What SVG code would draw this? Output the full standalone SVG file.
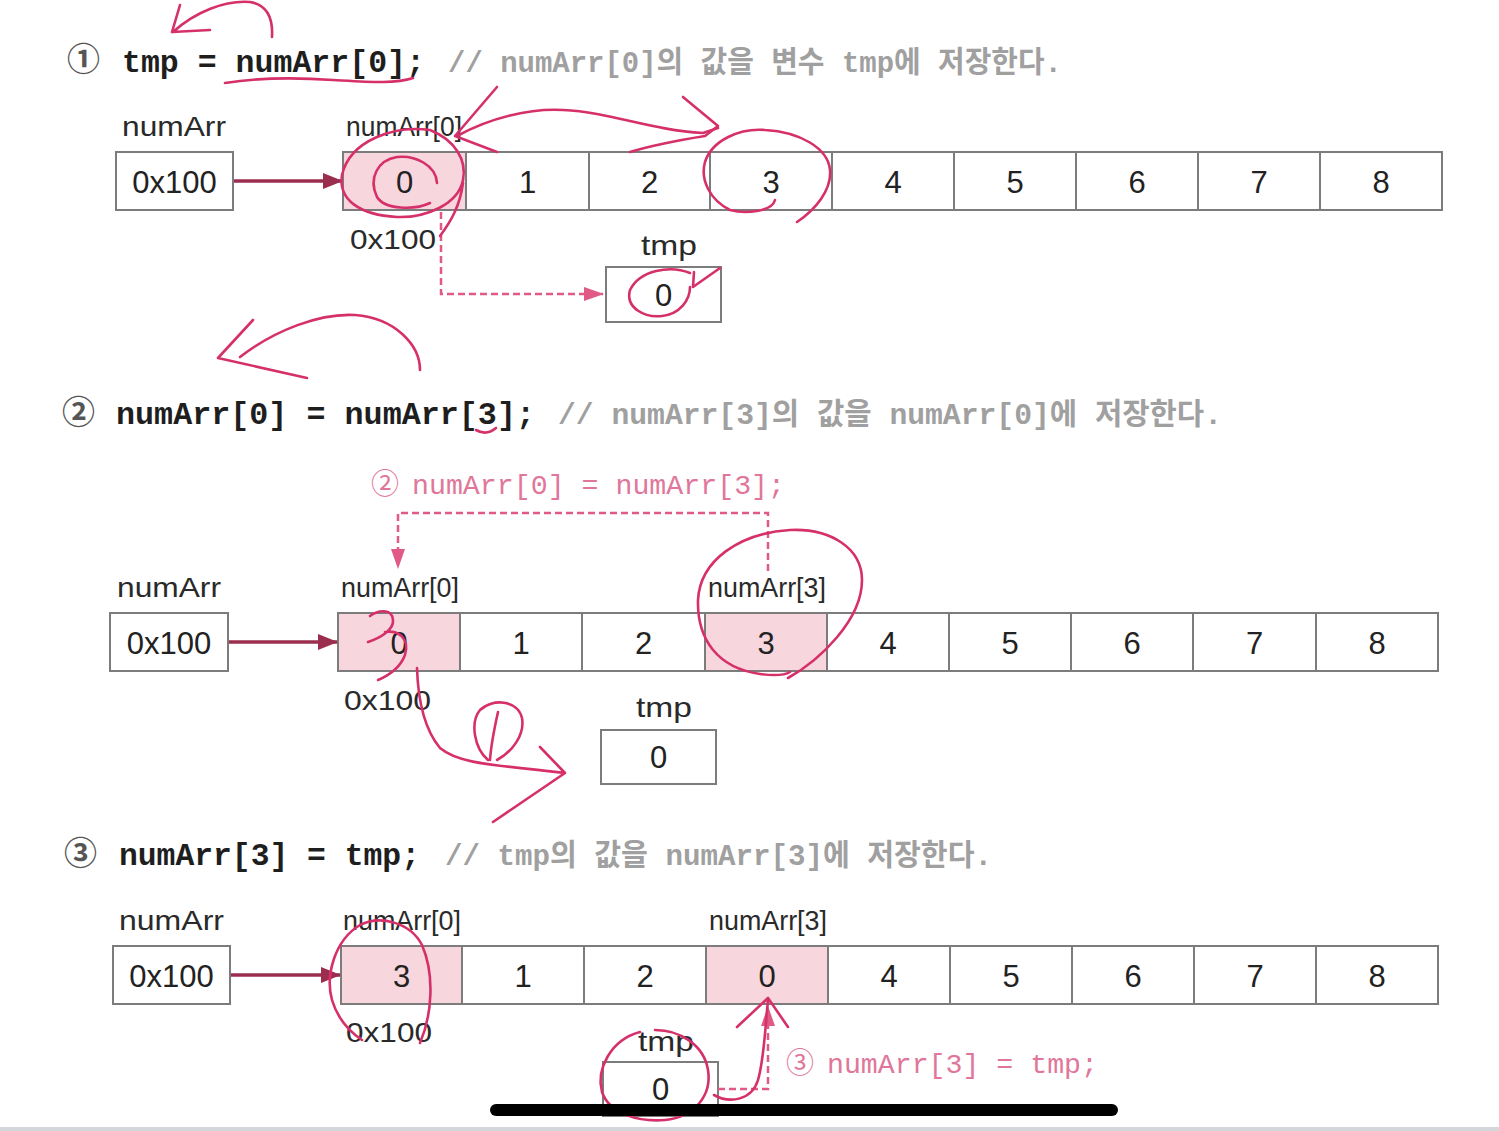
<svg xmlns="http://www.w3.org/2000/svg" width="1499" height="1131" viewBox="0 0 1499 1131">
<style>
.bg{fill:#ffffff}
.cell{fill:#ffffff;stroke:#7c7c7c;stroke-width:2}
.hl{fill:#f7d6dd;stroke:#7c7c7c;stroke-width:2}
.num{font-family:"Liberation Sans",Arial,sans-serif;font-size:31px;fill:#222;text-anchor:middle}
.lbl{font-family:"Liberation Sans",Arial,sans-serif;font-size:28px;fill:#2a2a2a}
.code{font-family:"Liberation Mono","Noto Sans CJK KR",monospace;font-weight:bold;font-size:31px;fill:#1e1e1e}
.cmt{font-family:"Liberation Mono","Noto Sans CJK KR",monospace;font-weight:bold;font-size:30px;fill:#a0a0a0}
.circ{font-family:"Noto Sans CJK KR","DejaVu Sans",sans-serif;font-size:33px;font-weight:bold;fill:#555}
.pcode{font-family:"Liberation Mono","Noto Sans CJK KR",monospace;font-size:27px;fill:#e0779a}
.pcirc{font-family:"Noto Sans CJK KR","DejaVu Sans",sans-serif;font-size:28px;fill:#e0779a}
.solid{stroke:#9b2d4e;stroke-width:3.5;fill:none}
.dash{stroke:#e05a85;stroke-width:2.5;stroke-dasharray:7 4;fill:none}
.hand{stroke:#d6306b;stroke-width:2.6;fill:none;stroke-linecap:round;stroke-linejoin:round}
</style>
<defs>
<marker id="ah" viewBox="0 0 20 16" refX="19" refY="8" markerWidth="20" markerHeight="16" markerUnits="userSpaceOnUse" orient="auto">
<path d="M0 0 L20 8 L0 16 z" fill="#9b2d4e"/>
</marker>
<marker id="ahp" viewBox="0 0 20 14" refX="19" refY="7" markerWidth="20" markerHeight="14" markerUnits="userSpaceOnUse" orient="auto">
<path d="M0 0 L20 7 L0 14 z" fill="#e05a85"/>
</marker>
</defs>
<rect class="bg" x="0" y="0" width="1499" height="1131"/>

<!-- Statement lines -->
<g id="stmt1">
<text class="circ" x="67" y="71">①</text>
<text class="code" x="122" y="72" textLength="303" lengthAdjust="spacingAndGlyphs">tmp = numArr[0];</text>
<text class="cmt" x="448" y="72" textLength="614" lengthAdjust="spacingAndGlyphs">// numArr[0]의 값을 변수 tmp에 저장한다.</text>
</g>
<g id="stmt2">
<text class="circ" x="62" y="424">②</text>
<text class="code" x="116" y="424" textLength="419" lengthAdjust="spacingAndGlyphs">numArr[0] = numArr[3];</text>
<text class="cmt" x="558" y="424" textLength="664" lengthAdjust="spacingAndGlyphs">// numArr[3]의 값을 numArr[0]에 저장한다.</text>
</g>
<g id="stmt3">
<text class="circ" x="64" y="865">③</text>
<text class="code" x="119" y="865" textLength="301" lengthAdjust="spacingAndGlyphs">numArr[3] = tmp;</text>
<text class="cmt" x="445" y="865" textLength="547" lengthAdjust="spacingAndGlyphs">// tmp의 값을 numArr[3]에 저장한다.</text>
</g>

<!-- Row 1 -->
<g id="row1-numArr">
<text class="lbl" x="122" y="136" textLength="104" lengthAdjust="spacingAndGlyphs">numArr</text>
<rect class="cell" x="116" y="152" width="117" height="58"/>
<text class="num" x="174.5" y="193">0x100</text>
</g>
<g id="row1-array">
<text class="lbl" x="346" y="136" textLength="116" lengthAdjust="spacingAndGlyphs">numArr[0]</text>
<rect class="hl" x="343" y="152" width="123" height="58"/>
<rect class="cell" x="466" y="152" width="123" height="58"/>
<rect class="cell" x="589" y="152" width="121" height="58"/>
<rect class="cell" x="710" y="152" width="122" height="58"/>
<rect class="cell" x="832" y="152" width="122" height="58"/>
<rect class="cell" x="954" y="152" width="122" height="58"/>
<rect class="cell" x="1076" y="152" width="122" height="58"/>
<rect class="cell" x="1198" y="152" width="122" height="58"/>
<rect class="cell" x="1320" y="152" width="122" height="58"/>
<text class="num" x="404.5" y="193">0</text>
<text class="num" x="527.5" y="193">1</text>
<text class="num" x="649.5" y="193">2</text>
<text class="num" x="771" y="193">3</text>
<text class="num" x="893" y="193">4</text>
<text class="num" x="1015" y="193">5</text>
<text class="num" x="1137" y="193">6</text>
<text class="num" x="1259" y="193">7</text>
<text class="num" x="1381" y="193">8</text>
<text class="lbl" x="350" y="249" textLength="86" lengthAdjust="spacingAndGlyphs">0x100</text>
</g>
<g id="row1-tmp">
<text class="lbl" x="641" y="255" textLength="56" lengthAdjust="spacingAndGlyphs">tmp</text>
<rect class="cell" x="606" y="267" width="115" height="55"/>
<text class="num" x="663.5" y="306">0</text>
</g>

<!-- Row 2 -->
<g id="row2-numArr">
<text class="lbl" x="117" y="597" textLength="104" lengthAdjust="spacingAndGlyphs">numArr</text>
<rect class="cell" x="110" y="613" width="118" height="58"/>
<text class="num" x="169" y="654">0x100</text>
</g>
<g id="row2-array">
<text class="lbl" x="341" y="597" textLength="118" lengthAdjust="spacingAndGlyphs">numArr[0]</text>
<text class="lbl" x="708" y="597" textLength="118" lengthAdjust="spacingAndGlyphs">numArr[3]</text>
<rect class="hl" x="338" y="613" width="122" height="58"/>
<rect class="cell" x="460" y="613" width="122" height="58"/>
<rect class="cell" x="582" y="613" width="123" height="58"/>
<rect class="hl" x="705" y="613" width="122" height="58"/>
<rect class="cell" x="827" y="613" width="122" height="58"/>
<rect class="cell" x="949" y="613" width="122" height="58"/>
<rect class="cell" x="1071" y="613" width="122" height="58"/>
<rect class="cell" x="1193" y="613" width="123" height="58"/>
<rect class="cell" x="1316" y="613" width="122" height="58"/>
<text class="num" x="399" y="654">0</text>
<text class="num" x="521" y="654">1</text>
<text class="num" x="643.5" y="654">2</text>
<text class="num" x="766" y="654">3</text>
<text class="num" x="888" y="654">4</text>
<text class="num" x="1010" y="654">5</text>
<text class="num" x="1132" y="654">6</text>
<text class="num" x="1254.5" y="654">7</text>
<text class="num" x="1377" y="654">8</text>
<text class="lbl" x="344" y="710" textLength="87" lengthAdjust="spacingAndGlyphs">0x100</text>
</g>
<g id="row2-tmp">
<text class="lbl" x="636" y="717" textLength="56" lengthAdjust="spacingAndGlyphs">tmp</text>
<rect class="cell" x="601" y="730" width="115" height="54"/>
<text class="num" x="658.5" y="768">0</text>
</g>
<g id="row2-note">
<text class="pcirc" x="371" y="494">②</text>
<text class="pcode" x="412" y="494" textLength="373" lengthAdjust="spacingAndGlyphs">numArr[0] = numArr[3];</text>
</g>

<!-- Row 3 -->
<g id="row3-numArr">
<text class="lbl" x="119" y="930" textLength="105" lengthAdjust="spacingAndGlyphs">numArr</text>
<rect class="cell" x="113" y="946" width="117" height="58"/>
<text class="num" x="171.5" y="987">0x100</text>
</g>
<g id="row3-array">
<text class="lbl" x="343" y="930" textLength="118" lengthAdjust="spacingAndGlyphs">numArr[0]</text>
<text class="lbl" x="709" y="930" textLength="118" lengthAdjust="spacingAndGlyphs">numArr[3]</text>
<rect class="hl" x="341" y="946" width="121" height="58"/>
<rect class="cell" x="462" y="946" width="122" height="58"/>
<rect class="cell" x="584" y="946" width="122" height="58"/>
<rect class="hl" x="706" y="946" width="122" height="58"/>
<rect class="cell" x="828" y="946" width="122" height="58"/>
<rect class="cell" x="950" y="946" width="122" height="58"/>
<rect class="cell" x="1072" y="946" width="122" height="58"/>
<rect class="cell" x="1194" y="946" width="122" height="58"/>
<rect class="cell" x="1316" y="946" width="122" height="58"/>
<text class="num" x="401.5" y="987">3</text>
<text class="num" x="523" y="987">1</text>
<text class="num" x="645" y="987">2</text>
<text class="num" x="767" y="987">0</text>
<text class="num" x="889" y="987">4</text>
<text class="num" x="1011" y="987">5</text>
<text class="num" x="1133" y="987">6</text>
<text class="num" x="1255" y="987">7</text>
<text class="num" x="1377" y="987">8</text>
<text class="lbl" x="346" y="1042" textLength="86" lengthAdjust="spacingAndGlyphs">0x100</text>
</g>
<g id="row3-tmp">
<text class="lbl" x="638" y="1051" textLength="56" lengthAdjust="spacingAndGlyphs">tmp</text>
<rect class="cell" x="603" y="1062" width="115" height="54"/>
<text class="num" x="660.5" y="1100">0</text>
</g>
<g id="row3-note">
<text class="pcirc" x="786" y="1073">③</text>
<text class="pcode" x="827" y="1073" textLength="271" lengthAdjust="spacingAndGlyphs">numArr[3] = tmp;</text>
</g>

<!-- Connectors -->
<g id="connectors">
<line class="solid" x1="234" y1="181" x2="342" y2="181" marker-end="url(#ah)"/>
<line class="solid" x1="229" y1="642" x2="337" y2="642" marker-end="url(#ah)"/>
<line class="solid" x1="231" y1="975" x2="340" y2="975" marker-end="url(#ah)"/>
<path class="dash" d="M441 212 V294 H603" marker-end="url(#ahp)"/>
<path class="dash" d="M768 571 V513 H398 V568" marker-end="url(#ahp)"/>
<path class="dash" d="M718 1089 H768 V1007" marker-end="url(#ahp)"/>
</g>

<!-- Handwritten annotations -->
<g id="annotations">
<path class="hand" d="M272 37 C273 20 268 5 250 2 C225 0 195 12 173 32 M180 5 L172 32 L210 30"/>
<path class="hand" d="M225 83 C250 79 290 77 333 80 C370 82 395 84 413 78"/>
<path class="hand" d="M497 87 L455 136 L497 152"/>
<path class="hand" d="M457 136 C490 118 530 108 563 110 C610 112 650 130 703 133 L718 128"/>
<path class="hand" d="M683 97 L718 126 L705 136 C680 140 650 146 630 152"/>
<path class="hand" d="M430 130 C395 125 350 140 342 175 C338 200 360 215 397 217 C425 218 458 205 463 180 C467 160 455 140 430 130 M463 183 C460 205 452 220 440 236"/>
<path class="hand" d="M437 183 C436 165 415 155 397 157 C378 160 368 178 377 197 C385 210 415 210 430 203"/>
<path class="hand" d="M775 200 C772 212 745 214 730 210 C710 200 700 180 705 162 C712 140 740 128 765 130 C800 132 828 148 830 170 C832 190 815 210 797 222"/>
<path class="hand" d="M690 273 C670 265 640 270 630 290 C625 308 645 318 662 316 C680 314 690 300 690 287 M694 272 L693 287 L720 268"/>
<path class="hand" d="M420 370 C420 345 395 318 355 315 C320 313 275 330 240 357 M253 320 L218 358 L307 378"/>
<path class="hand" d="M476 430 C483 434 490 433 496 428"/>
<path class="hand" d="M788 678 C820 660 862 620 862 580 C862 548 830 528 790 530 C740 533 700 560 698 600 C697 640 718 668 760 674 C775 676 785 675 790 672"/>
<path class="hand" d="M370 616 C378 610 392 608 393 620 C394 630 380 638 368 642 M385 632 C398 630 410 638 405 655 C400 668 390 675 378 680"/>
<path class="hand" d="M417 668 C418 700 425 730 440 748 C460 765 500 765 565 773 M540 747 L565 773 L493 822"/>
<path class="hand" d="M488 760 C474 748 470 722 480 710 C492 698 518 700 522 718 C525 735 512 752 497 760 M498 712 C494 730 491 745 490 760"/>
<path class="hand" d="M420 1043 C432 1015 435 975 422 945 C410 922 380 915 360 925 C335 940 325 975 332 1000 C338 1020 350 1032 362 1040"/>
<path class="hand" d="M640 1032 C610 1040 596 1070 602 1092 C610 1115 640 1122 665 1120 C695 1117 712 1095 708 1070 C704 1045 680 1030 655 1030"/>
<path class="hand" d="M714 1095 C730 1104 752 1100 758 1080 C764 1060 765 1030 768 1000 M737 1027 L768 998 L788 1027"/>
</g>

<rect x="490" y="1104" width="628" height="12" rx="6" fill="#000"/>
<rect x="0" y="1127" width="1499" height="4" fill="#d3d7dc"/>
</svg>
